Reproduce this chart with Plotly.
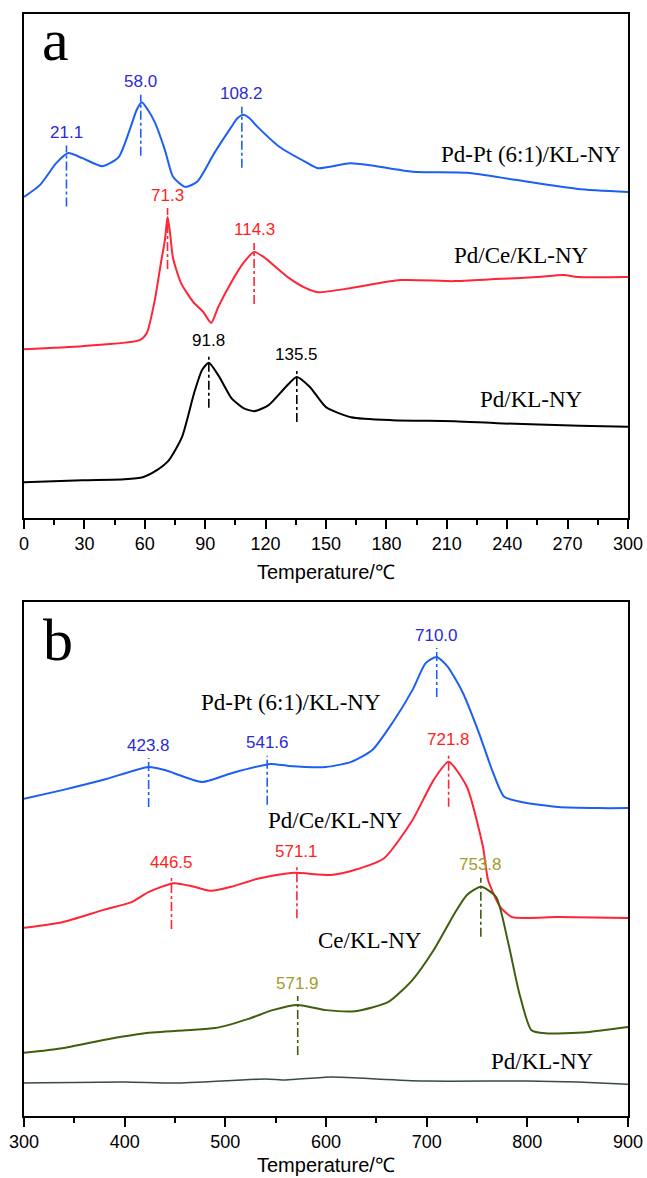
import numpy as np
import plotly.graph_objects as go

# ---------------- data: panel a (H2-TPR, 0-300 C) ----------------
a_ptpd_T = [0, 8, 16, 22, 29, 39, 47, 53, 56, 58.5, 61.5, 65, 70, 74, 80, 86, 94.5, 103, 106, 109,
            112, 116, 127, 140, 146, 162, 172, 193, 220, 244, 275, 300]
a_ptpd_I = [63.7, 66.1, 70.4, 72.4, 71.4, 69.8, 71.6, 77.6, 81.0, 82.5, 81.0, 78.5, 73.0, 67.7,
            65.7, 66.7, 72.4, 77.6, 79.3, 80.0, 79.3, 77.6, 73.6, 70.6, 69.4, 70.4, 70.0, 68.7,
            68.5, 67.1, 65.3, 64.7]

a_pdce_T = [0, 29, 57.5, 61, 65, 68, 70, 71.3, 72.5, 74, 78, 84, 89, 93, 96.5, 102.7, 109, 114.3,
            119, 131, 140, 146, 162, 187, 213.5, 234, 255, 268, 275, 300]
a_pdce_I = [33.5, 34.1, 35.3, 36.7, 43.3, 50.6, 55.2, 59.7, 56.7, 51.6, 46.6, 42.9, 40.9, 38.7,
            41.9, 46.6, 50.6, 52.8, 51.8, 47.8, 45.6, 44.8, 45.6, 47.2, 47.0, 47.4, 47.8, 48.2,
            47.8, 47.8]

a_pd_T = [0, 29, 50, 59, 66, 72, 78.5, 84.5, 88.5, 91.8, 97, 103, 109, 114.5, 121.5, 130, 135.5,
          142, 150, 162.5, 183, 214, 235, 276, 300]
a_pd_I = [7.1, 7.5, 7.7, 8.1, 9.5, 11.5, 16.1, 24.8, 29.4, 30.8, 28.0, 23.8, 21.8, 21.2, 22.4,
          26.0, 28.0, 26.0, 22.0, 20.0, 19.4, 19.2, 18.8, 18.3, 18.1]

# ---------------- data: panel b (300-900 C) ----------------
b_ptpd_T = [300, 338, 379, 424, 440, 477, 506, 545, 563, 600, 625, 646, 666, 686, 699, 710, 721,
            736, 752, 765, 777, 794, 831, 871, 900]
b_ptpd_I = [61.7, 63.4, 65.4, 67.9, 67.3, 65.0, 66.7, 68.5, 68.1, 67.9, 68.9, 71.2, 76.5, 82.9,
            88.1, 89.3, 87.4, 82.3, 74.5, 67.3, 62.1, 61.1, 60.1, 59.9, 59.9]

b_pdce_T = [300, 338, 379, 407, 424, 449, 469, 486, 506, 531, 566, 605, 629, 658, 686, 707, 721.8,
            740, 756, 761, 773, 785, 830, 900]
b_pdce_I = [36.6, 37.7, 40.1, 41.6, 43.6, 45.3, 44.6, 43.8, 44.6, 46.1, 47.3, 46.9, 47.9, 50.2,
            57.6, 65.4, 68.9, 64.0, 52.3, 45.9, 40.7, 38.7, 38.7, 38.5]

b_ce_T = [300, 338, 379, 420, 461, 490, 523, 547, 572, 600, 629, 662, 686, 707, 728, 740, 754,
          769, 781, 792, 804, 818, 859, 900]
b_ce_I = [12.3, 13.2, 14.8, 16.1, 16.7, 17.1, 18.9, 20.6, 21.6, 20.6, 20.4, 22.2, 26.5, 32.3,
          39.5, 43.0, 44.6, 42.6, 33.7, 23.9, 16.7, 16.1, 16.3, 17.3]

b_pd_T = [300, 400, 450, 540, 560, 605, 650, 700, 800, 850, 900]
b_pd_I = [6.4, 6.6, 6.4, 7.2, 7.0, 7.6, 7.2, 6.8, 6.8, 6.6, 6.2]

# peak temperatures (labels)
a_ptpd_peaks = [21.1, 58.0, 108.2]
a_pdce_peaks = [71.3, 114.3]
a_pd_peaks = [91.8, 135.5]
b_ptpd_peaks = [423.8, 541.6, 710.0]
b_pdce_peaks = [446.5, 571.1, 721.8]
b_ce_peaks = [571.9, 753.8]

sample_names = ["Pd-Pt (6:1)/KL-NY", "Pd/Ce/KL-NY", "Pd/KL-NY", "Ce/KL-NY"]

# ---------------- styles / geometry ----------------
BLUE, BLUE_TXT = "#1c5ff2", "#2b2bd6"
RED, RED_TXT = "#ff2436", "#ff1f1f"
BLACK = "#000000"
OLIVE, OLIVE_TXT = "#3f5e0e", "#a39c2c"
GRAY = "#3a4848"
SANS = "Liberation Sans, Arial, sans-serif"
SERIF = "Liberation Serif, Times New Roman, serif"

W, H = 647, 1178


def px(x):
    return x / W


def py(y):
    return 1 - y / H


fig = go.Figure()


def curve(T, I, color, xa, ya, width=2.0):
    fig.add_trace(go.Scatter(x=T, y=I, mode="lines",
                             line=dict(color=color, width=width, shape="spline", smoothing=0.6),
                             xaxis=xa, yaxis=ya, showlegend=False, hoverinfo="skip"))


def peaks(T, I, plist, lcolor, tcolor, xr, yr, above=9, below=50, lab=22):
    for p in plist:
        h = float(np.interp(p, T, I))
        fig.add_shape(type="line", xref=xr, yref=yr, x0=p, x1=p, ysizemode="pixel", yanchor=h,
                      y0=-below, y1=above, line=dict(color=lcolor, width=1.6, dash="dashdot"))
        fig.add_annotation(x=p, y=h, xref=xr, yref=yr, text=f"{p:.1f}", showarrow=False,
                           yshift=lab, xanchor="center", yanchor="middle",
                           font=dict(family=SANS, size=17, color=tcolor))


curve(a_ptpd_T, a_ptpd_I, BLUE, "x", "y")
curve(a_pdce_T, a_pdce_I, RED, "x", "y")
curve(a_pd_T, a_pd_I, BLACK, "x", "y")
curve(b_ptpd_T, b_ptpd_I, BLUE, "x2", "y2")
curve(b_pdce_T, b_pdce_I, RED, "x2", "y2")
curve(b_ce_T, b_ce_I, OLIVE, "x2", "y2")
curve(b_pd_T, b_pd_I, GRAY, "x2", "y2", width=1.5)

peaks(a_ptpd_T, a_ptpd_I, a_ptpd_peaks, BLUE, BLUE_TXT, "x", "y", below=52)
peaks(a_pdce_T, a_pdce_I, a_pdce_peaks, RED, RED_TXT, "x", "y", below=52)
peaks(a_pd_T, a_pd_I, a_pd_peaks, BLACK, BLACK, "x", "y", below=45)
peaks(b_ptpd_T, b_ptpd_I, b_ptpd_peaks, BLUE, BLUE_TXT, "x2", "y2", below=40)
peaks(b_pdce_T, b_pdce_I, b_pdce_peaks, RED, RED_TXT, "x2", "y2", below=45)
peaks(b_ce_T, b_ce_I, b_ce_peaks, OLIVE, OLIVE_TXT, "x2", "y2", below=50)

# sample labels
lab_font = dict(family=SERIF, size=23, color="black")
for txt, x, y, xr, yr in [
    (sample_names[0], 252, 72.2, "x", "y"),
    (sample_names[1], 247, 52.0, "x", "y"),
    (sample_names[2], 252, 23.6, "x", "y"),
    (sample_names[0], 565, 80.4, "x2", "y2"),
    (sample_names[1], 609, 57.4, "x2", "y2"),
    (sample_names[3], 644, 34.2, "x2", "y2"),
    (sample_names[2], 815, 10.7, "x2", "y2"),
]:
    fig.add_annotation(x=x, y=y, xref=xr, yref=yr, text=txt, showarrow=False,
                       xanchor="center", yanchor="middle", font=lab_font)

# panel letters
fig.add_annotation(x=px(55), y=py(40), xref="paper", yref="paper", text="a", showarrow=False,
                   xanchor="center", yanchor="middle", font=dict(family=SERIF, size=60, color="black"))
fig.add_annotation(x=px(58), y=py(640), xref="paper", yref="paper", text="b", showarrow=False,
                   xanchor="center", yanchor="middle", font=dict(family=SERIF, size=60, color="black"))

# axis titles
for yy in [572, 1165]:
    fig.add_annotation(x=px(326), y=py(yy), xref="paper", yref="paper", text="Temperature/℃",
                       showarrow=False, xanchor="center", yanchor="middle",
                       font=dict(family=SANS, size=20, color="black"))

xdom = [px(24), px(628)]
common_x = dict(showgrid=False, zeroline=False, showline=True, linecolor="black", linewidth=1.6, mirror=True,
                ticks="outside", ticklen=9, tickwidth=1.5, tickcolor="black", automargin=False,
                ticklabeloverflow="allow",
                tickfont=dict(family=SANS, size=18, color="black"))
common_y = dict(showgrid=False, zeroline=False, showline=True, linecolor="black", linewidth=1.6, mirror=True,
                showticklabels=False, ticks="", range=[0, 100], automargin=False)

fig.update_layout(
    width=W, height=H, margin=dict(l=0, r=0, t=0, b=0),
    paper_bgcolor="white", plot_bgcolor="white",
    xaxis=dict(domain=xdom, range=[0, 300], dtick=30, anchor="y",
               minor=dict(dtick=15, ticks="outside", ticklen=5, tickwidth=1.5, tickcolor="black"), **common_x),
    yaxis=dict(domain=[py(518), py(14)], anchor="x", **common_y),
    xaxis2=dict(domain=xdom, range=[300, 900], dtick=100, anchor="y2",
                minor=dict(dtick=50, ticks="outside", ticklen=5, tickwidth=1.5, tickcolor="black"), **common_x),
    yaxis2=dict(domain=[py(1116), py(602)], anchor="x2", **common_y),
)

fig.write_html("out.html", config={"displayModeBar": False},
               post_script="document.body.style.margin='0';document.body.style.overflow='hidden';")
